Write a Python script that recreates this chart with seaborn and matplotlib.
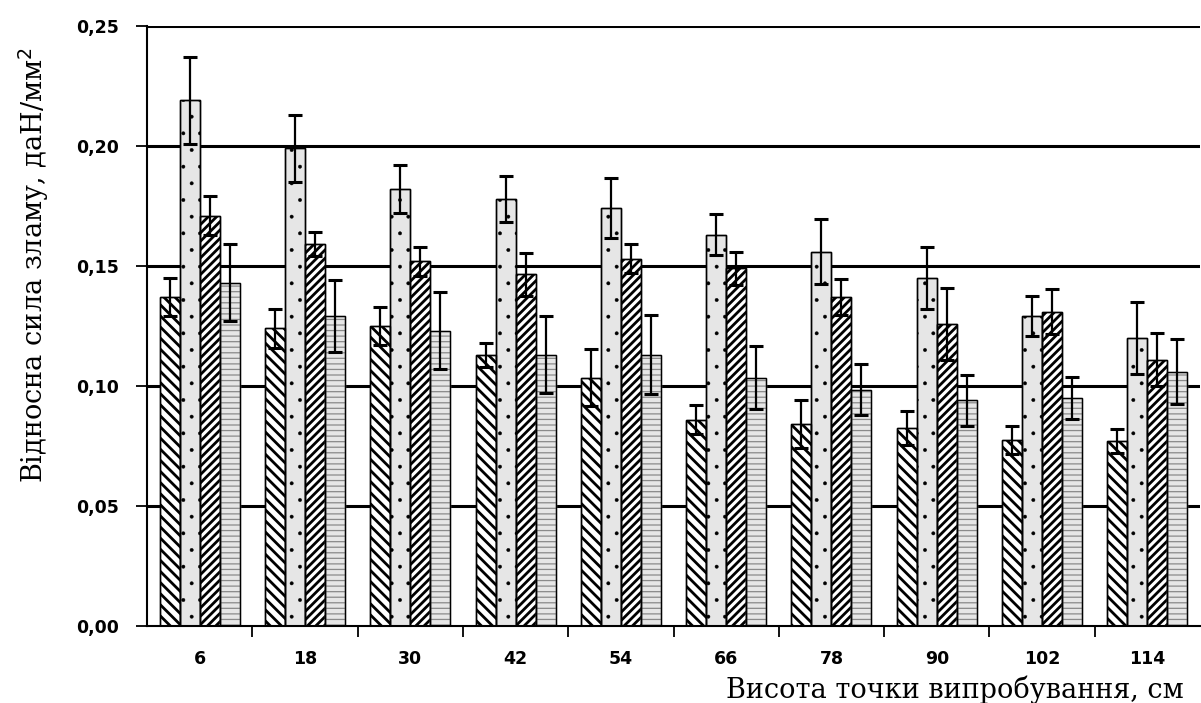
import numpy as np
import pandas as pd
import matplotlib
matplotlib.use("Agg")
import matplotlib.pyplot as plt
import seaborn as sns

heights = ["6", "18", "30", "42", "54", "66", "78", "90", "102", "114"]
series_names = ["s1", "s2", "s3", "s4"]
s1 = [0.137, 0.124, 0.125, 0.113, 0.1035, 0.086, 0.084, 0.0825, 0.0775, 0.077]
s2 = [0.219, 0.199, 0.182, 0.178, 0.174, 0.163, 0.156, 0.145, 0.129, 0.120]
s3 = [0.171, 0.159, 0.152, 0.1465, 0.153, 0.149, 0.137, 0.126, 0.131, 0.111]
s4 = [0.143, 0.129, 0.123, 0.113, 0.113, 0.1035, 0.0985, 0.094, 0.095, 0.106]
e1 = [0.008, 0.008, 0.008, 0.005, 0.012, 0.006, 0.010, 0.007, 0.006, 0.005]
e2 = [0.018, 0.014, 0.010, 0.0095, 0.0125, 0.0086, 0.0136, 0.013, 0.0083, 0.015]
e3 = [0.008, 0.005, 0.006, 0.009, 0.006, 0.007, 0.0076, 0.015, 0.0093, 0.011]
e4 = [0.016, 0.015, 0.016, 0.016, 0.0165, 0.013, 0.0107, 0.0105, 0.0086, 0.0135]
y_ticks = [0.00, 0.05, 0.10, 0.15, 0.20, 0.25]
y_tick_labels = ["0,00", "0,05", "0,10", "0,15", "0,20", "0,25"]

values = [s1, s2, s3, s4]
errors = [e1, e2, e3, e4]

rows = []
for name, vals in zip(series_names, values):
    for h, v in zip(heights, vals):
        rows.append({"height": h, "series": name, "value": v})
df = pd.DataFrame(rows)

sns.set_theme(style="white")
plt.rcParams["hatch.linewidth"] = 2.0
plt.rcParams["text.color"] = "black"

fig = plt.figure(figsize=(12.01, 7.03), dpi=100)
ax = fig.add_axes([147 / 1201, 1 - 626 / 703, (1200 - 147) / 1201, 600 / 703])

for y in y_ticks[1:]:
    ax.axhline(y, color="black", lw=2.2, zorder=0)

palette = {"s1": "white", "s2": "#e6e6e6", "s3": "white", "s4": "#e6e6e6"}
sns.barplot(data=df, x="height", y="value", hue="series", order=heights,
            hue_order=series_names, palette=palette, width=0.76, dodge=True,
            errorbar=None, legend=False, saturation=1, ax=ax,
            edgecolor="black", linewidth=1.0, zorder=2)

hatches = ["\\\\\\", ".", "////", "---"]
hcolors = ["black", "black", "black", "#8a8a8a"]
hlws = [2.0, 0.3, 2.0, 0.9]
for cont, hatch, hc, hlw, errs in zip(ax.containers, hatches, hcolors, hlws, errors):
    xs, ys = [], []
    for p in cont.patches:
        p.set_hatch(hatch)
        p.set_edgecolor(hc)
        if hasattr(p, "set_hatch_linewidth"):
            p.set_hatch_linewidth(hlw)
        xs.append(p.get_x() + p.get_width() / 2)
        ys.append(p.get_height())
        ax.add_patch(plt.Rectangle((p.get_x(), 0), p.get_width(), p.get_height(),
                                   fill=False, edgecolor="black", lw=1.0, zorder=3))
    ax.errorbar(xs, ys, yerr=errs, fmt="none", ecolor="black", elinewidth=1.6,
                capsize=5, capthick=2.2, zorder=4)

ax.set_xlim(-0.5, 9.5)
ax.set_ylim(0, 0.25)
ax.set_yticks(y_ticks)
ax.set_yticklabels(y_tick_labels, fontsize=12.5, fontweight="bold",
                   family="DejaVu Sans")
ax.set_xticks(range(len(heights)))
ax.set_xticklabels(heights, fontsize=12.5, fontweight="bold", family="DejaVu Sans")
ax.set_xticks(np.arange(0.5, 9.5, 1.0), minor=True)
ax.tick_params(axis="x", which="major", length=0, pad=17, colors="black")
ax.tick_params(axis="x", which="minor", length=8, width=1.3, direction="out",
               colors="black", bottom=True)
ax.tick_params(axis="y", which="major", length=8, width=1.3, direction="out",
               pad=12, colors="black", left=True)
ax.set_xlabel("")
ax.set_ylabel("")

for side in ["top", "right"]:
    ax.spines[side].set_visible(False)
for side in ["left", "bottom"]:
    ax.spines[side].set_visible(True)
    ax.spines[side].set_color("black")
    ax.spines[side].set_linewidth(1.5)

fig.text(34 / 1201, 1 - 265 / 703, "Відносна сила зламу, даН/мм$^2$", rotation=90,
         ha="center", va="center", fontsize=19.5, family="DejaVu Serif",
         color="black")
fig.text(1184 / 1201, 1 - 690 / 703, "Висота точки випробування, см",
         ha="right", va="center", fontsize=19.5, family="DejaVu Serif",
         color="black")

fig.savefig("out.png", dpi=100, facecolor="white")
